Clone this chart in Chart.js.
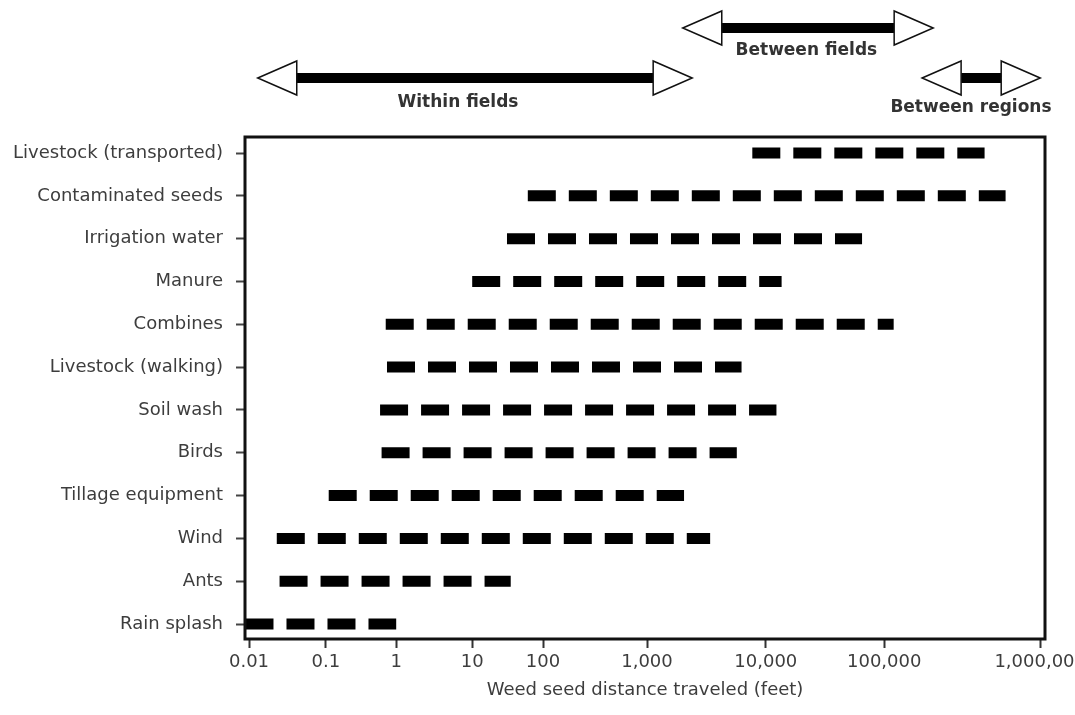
<!DOCTYPE html>
<html>
<head>
<meta charset="utf-8">
<title>Weed seed dispersal distance</title>
<script src="https://cdn.jsdelivr.net/npm/chart.js@4/dist/chart.umd.min.js"></script>
<style>
	html, body { margin: 0; padding: 0; background: #fff; overflow: hidden; }
	#wrap { width: 1100px; height: 715px; }
</style>
</head>
<body>
<div id="wrap"><canvas id="seedChart" width="1100" height="715"></canvas></div>
<script>
// rows, top to bottom
const categories = [
	'Livestock (transported)', 'Contaminated seeds', 'Irrigation water', 'Manure',
	'Combines', 'Livestock (walking)', 'Soil wash', 'Birds',
	'Tillage equipment', 'Wind', 'Ants', 'Rain splash'
];

// distance range per row, feet
const rangeFrom	= [7700, 61, 31, 10, 0.71, 0.74, 0.59, 0.62, 0.11, 0.023, 0.025, 0.009];
const rangeTo	= [440000, 600000, 65000, 13600, 115000, 6250, 12300, 5700, 2050, 3400, 35, 1];

// x axis ticks
const xTickValues = [0.01, 0.1, 1, 10, 100, 1000, 10000, 100000, 1000000];
const xTickLabels = ['0.01', '0.1', '1', '10', '100', '1,000', '10,000', '100,000', '1,000,000'];

// scale bands drawn over the plot
const arrowLabels	= ['Within fields', 'Between fields', 'Between regions'];
const arrowFrom		= [0.013, 2000, 175000];
const arrowTo		= [2400, 206000, 1000000];
const arrowLabelAt	= [6.5, 22000, 360000];

// the printed axis is not evenly spaced per decade, so the scale follows it
const axisDecades		= [-2, -1, 0, 1, 2, 3, 4, 5, 6];
const axisDecadeFrac	= [0.005, 0.101, 0.189, 0.284, 0.3725, 0.5025, 0.651, 0.799, 0.994];

;(function (window, document, undefined) {
	'use strict';

	function segmentFor(list, v) {
		let n = list.length;
		if (v <= list[0]) return 0;
		if (v >= list[n - 1]) return n - 2;
		let i = 0;
		while (v > list[i + 1]) i++;
		return i;
	}

	function lerpMap(from, to, v) {
		let i = segmentFor(from, v);
		let t = (v - from[i]) / (from[i + 1] - from[i]);
		return to[i] + t * (to[i + 1] - to[i]);
	}

	class PrintedLogScale extends Chart.LogarithmicScale {
		getPixelForValue(value) {
			if (value === undefined || value === 0) {
				value = this.min;
			}
			if (value === null || isNaN(value)) {
				return NaN;
			}
			return this.getPixelForDecimal(lerpMap(axisDecades, axisDecadeFrac, Math.log10(value)));
		}
		getValueForPixel(pixel) {
			let d = this.getDecimalForPixel(pixel);
			return Math.pow(10, lerpMap(axisDecadeFrac, axisDecades, d));
		}
	}
	PrintedLogScale.id = 'printedLog';
	PrintedLogScale.defaults = Chart.LogarithmicScale.defaults;
	Chart.register(PrintedLogScale);

	let frame = {
		id: 'frame',
		afterDatasetsDraw: function (chart) {
			let a	= chart.chartArea;
			let ctx	= chart.ctx;
			ctx.save();
			ctx.strokeStyle = '#111';
			ctx.lineWidth = 3;
			ctx.strokeRect(a.left, a.top, a.right - a.left, a.bottom - a.top);
			ctx.restore();
		}
	};

	let bands = {
		id: 'bands',
		afterDraw: function (chart) {
			let ctx		= chart.ctx;
			let x		= chart.scales.x;
			let levelY	= [78, 28, 78];
			let labelDy	= [25, 23, 30];
			let headLen	= 39;
			let headH	= 17;
			let shaft	= 5;

			ctx.save();
			arrowLabels.forEach(function (label, i) {
				let x1 = x.getPixelForValue(arrowFrom[i]);
				let x2 = x.getPixelForValue(arrowTo[i]);
				let y  = levelY[i];

				ctx.fillStyle = '#000';
				ctx.fillRect(x1 + headLen, y - shaft, (x2 - headLen) - (x1 + headLen), shaft * 2);

				ctx.lineWidth = 1.5;
				ctx.strokeStyle = '#111';
				ctx.fillStyle = '#fff';

				ctx.beginPath();
				ctx.moveTo(x1, y);
				ctx.lineTo(x1 + headLen, y - headH);
				ctx.lineTo(x1 + headLen, y + headH);
				ctx.closePath();
				ctx.fill();
				ctx.stroke();

				ctx.beginPath();
				ctx.moveTo(x2, y);
				ctx.lineTo(x2 - headLen, y - headH);
				ctx.lineTo(x2 - headLen, y + headH);
				ctx.closePath();
				ctx.fill();
				ctx.stroke();

				ctx.fillStyle = '#333';
				ctx.font = 'bold 17px "DejaVu Sans", sans-serif';
				ctx.textAlign = 'center';
				ctx.textBaseline = 'middle';
				ctx.fillText(label, x.getPixelForValue(arrowLabelAt[i]), y + labelDy[i]);
			});
			ctx.restore();
		}
	};

	let datasets = categories.map(function (name, i) {
		return {
			label: name,
			data: [{x: rangeFrom[i], y: i}, {x: rangeTo[i], y: i}],
			borderColor: '#000',
			borderWidth: 11,
			borderDash: [28, 13],
			borderCapStyle: 'butt',
			pointRadius: 0,
			pointHoverRadius: 0,
			tension: 0
		};
	});

	Chart.defaults.font.family = '"DejaVu Sans", sans-serif';
	Chart.defaults.font.size = 18;
	Chart.defaults.color = '#3d3d3d';

	let ctx = document.getElementById('seedChart').getContext('2d');
	new Chart(ctx, {
		type: 'line',
		data: { datasets: datasets },
		plugins: [frame, bands],
		options: {
			responsive: false,
			animation: false,
			devicePixelRatio: 1,
			layout: {
				padding: { top: 137, right: 55, bottom: 0, left: 0 }
			},
			plugins: {
				legend: { display: false },
				tooltip: { enabled: false }
			},
			scales: {
				x: {
					type: 'printedLog',
					min: 0.0088,
					max: 1070000,
					afterBuildTicks: function (scale) {
						scale.ticks = xTickValues.map(function (v) { return { value: v }; });
					},
					afterFit: function (scale) {
						scale.height = 76;
					},
					ticks: {
						autoSkip: false,
						maxRotation: 0,
						minRotation: 0,
						padding: 4,
						color: '#3d3d3d',
						callback: function (v, i) { return xTickLabels[i]; }
					},
					grid: {
						drawOnChartArea: false,
						drawTicks: true,
						tickLength: 9,
						tickWidth: 2,
						tickColor: '#333'
					},
					border: { display: false },
					title: {
						display: true,
						text: 'Weed seed distance traveled (feet)',
						color: '#3d3d3d',
						font: { size: 18 },
						padding: { top: 4, bottom: 14 }
					}
				},
				y: {
					type: 'linear',
					reverse: true,
					min: -0.374,
					max: 11.35,
					afterBuildTicks: function (scale) {
						scale.ticks = categories.map(function (c, i) { return { value: i }; });
					},
					afterFit: function (scale) {
						scale.width = 245;
					},
					ticks: {
						autoSkip: false,
						padding: 13,
						color: '#3d3d3d',
						callback: function (v) { return categories[v]; }
					},
					grid: {
						drawOnChartArea: false,
						drawTicks: true,
						tickLength: 9,
						tickWidth: 2,
						tickColor: '#444'
					},
					border: { display: false }
				}
			}
		}
	});

})(window, document);
</script>
</body>
</html>
